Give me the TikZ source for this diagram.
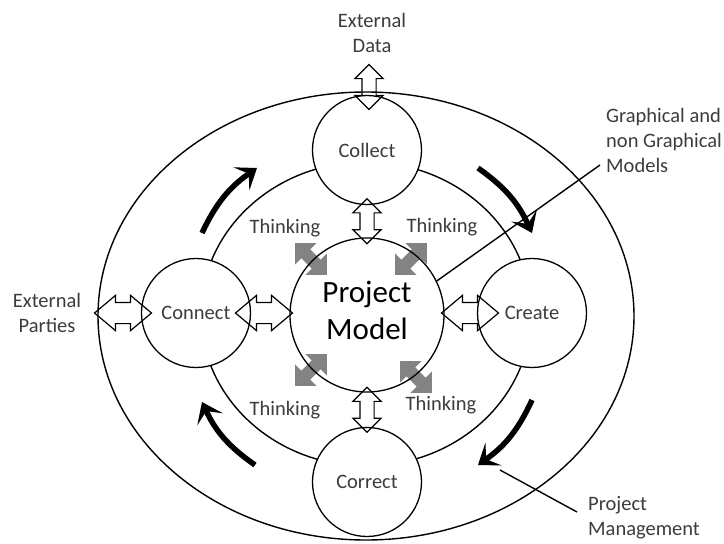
\documentclass[tikz,border=0pt]{standalone}
\usepackage{fontspec}
\setmainfont{Carlito}
\usetikzlibrary{shapes.arrows,arrows.meta,positioning,calc}
\definecolor{thinkgray}{RGB}{118,118,118}
\definecolor{inkgray}{RGB}{60,60,60}
\tikzset{
  ring/.style={line width=1.4pt},
  stage/.style={circle, draw, line width=1.3pt, fill=white, minimum size=109pt, inner sep=0pt,
    font=\fontsize{20.5}{25}\selectfont, text=inkgray},
  core/.style={circle, draw, line width=1.3pt, minimum size=154pt, inner sep=0pt, align=center,
    text depth=10pt, font=\fontsize{31}{37}\selectfont},
  lbl/.style={align=center, inner sep=0pt, font=\fontsize{20.5}{25}\selectfont, text=inkgray},
  linkarrow/.style={double arrow, draw, line width=1.2pt, inner xsep=0pt, inner ysep=6.5pt,
    double arrow head extend=7pt, minimum height=45pt},
  widearrow/.style={linkarrow, inner ysep=10pt, double arrow head extend=7pt,
    double arrow tip angle=80, minimum height=57pt},
  thinkarrow/.style={double arrow, fill=thinkgray, fill opacity=0.9, inner xsep=0pt, inner ysep=6pt,
    double arrow head extend=9pt, double arrow tip angle=90, minimum height=45pt},
  cyclearrow/.style={line width=5.5pt, -{Stealth[length=19pt,width=28pt,inset=9pt]}},
  pointer/.style={line width=1.4pt}
}
\begin{document}
\begin{tikzpicture}[x=1pt,y=-1pt]
\useasboundingbox (0,0) rectangle (724,544);
% rings
\draw[ring] (366,316) ellipse [x radius=268, y radius=224];
\draw[ring] (366,314) ellipse [x radius=165, y radius=152];
% the four stages
\node[stage] (collect) at (367,150) {Collect};
\node[stage] (connect) at (196,313) {Connect};
\node[stage] (create) at (532,313) {Create};
\node[stage] (correct) at (367,482) {Correct};
% thinking arrows
\node[thinkarrow, rotate=-45] (thinkUL) at (311,259) {};
\node[thinkarrow, rotate=45] (thinkUR) at (411,259) {};
\node[thinkarrow, rotate=45] (thinkLL) at (311,370) {};
\node[thinkarrow, rotate=-45] (thinkLR) at (416,377) {};
\node[core] (model) at (367,315) {Project\\Model};
% links
\node[linkarrow, rotate=90] (dataLink) at (369,87) {};
\node[linkarrow, rotate=90] (collectLink) at ($(collect.south)!0.5!(model.north)$) {};
\node[linkarrow, rotate=90] (correctLink) at ($(model.south)!0.5!(correct.north)$) {};
\node[widearrow] (partiesLink) at (123,313) {};
\node[widearrow] (connectLink) at (264,313) {};
\node[widearrow] (createLink) at (470,313) {};
% labels
\node[lbl] (extData) at (372,33) {External\\Data};
\node[lbl] (extParties) at (47,313) {External\\Parties};
\node[lbl] (thinkTxtUL) at (285,228) {Thinking};
\node[lbl] (thinkTxtUR) at (442,227) {Thinking};
\node[lbl] (thinkTxtLL) at (285,410) {Thinking};
\node[lbl] (thinkTxtLR) at (441,405) {Thinking};
\node[lbl, align=left, anchor=west] (modelsTxt) at (606,140) {Graphical and\\non Graphical\\Models};
\node[lbl, align=left, anchor=west] (mgmtTxt) at (588,518) {Project\\Management};
% pointers
\coordinate (modelsEnd) at (600,165);
\coordinate (mgmtStart) at (577,512);
\coordinate (mgmtEnd) at (500,470);
\draw[pointer] (modelsEnd) -- (model.26);
\draw[pointer] (mgmtStart) -- (mgmtEnd);
% cycle
\draw[cyclearrow] (202,233) to[bend left=15] (257,168);
\draw[cyclearrow] (478,168) to[bend left=15] (532,233);
\draw[cyclearrow] (532,400) to[bend left=15] (478,465);
\draw[cyclearrow] (255,465) to[bend left=15] (202,402);
\end{tikzpicture}
\end{document}
